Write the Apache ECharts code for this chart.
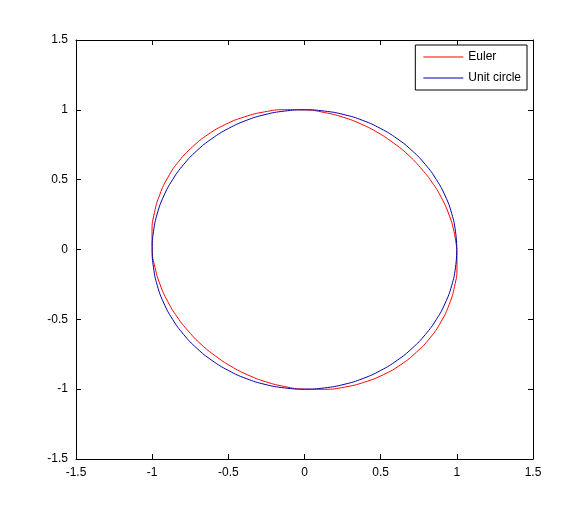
<!DOCTYPE html>
<html>
<head>
<meta charset="utf-8">
<script src="https://cdn.jsdelivr.net/npm/echarts@6/dist/echarts.min.js"></script>
<style>html,body{margin:0;padding:0;background:#fff}#chart{width:588px;height:516px}</style>
</head>
<body>
<div id="chart"></div>
<script>
// points
var eulerX = [1.0, 0.981, 0.947, 0.898, 0.836, 0.762, 0.679, 0.585, 0.483, 0.372, 0.254, 0.130, 0.0,
              -0.132, -0.264, -0.393, -0.518, -0.633, -0.735, -0.824, -0.896, -0.950, -0.985, -1.001, -1.0,
              -0.981, -0.947, -0.898, -0.836, -0.762, -0.679, -0.585, -0.483, -0.372, -0.254, -0.130, 0.0,
              0.132, 0.264, 0.393, 0.518, 0.633, 0.735, 0.824, 0.896, 0.950, 0.985, 1.001, 1.0];
var eulerY = [0.0, 0.130, 0.254, 0.372, 0.483, 0.585, 0.679, 0.762, 0.836, 0.898, 0.947, 0.981, 1.0,
              1.001, 0.985, 0.950, 0.896, 0.824, 0.735, 0.633, 0.518, 0.393, 0.264, 0.132, 0.0,
              -0.130, -0.254, -0.372, -0.483, -0.585, -0.679, -0.762, -0.836, -0.898, -0.947, -0.981, -1.0,
              -1.001, -0.985, -0.950, -0.896, -0.824, -0.735, -0.633, -0.518, -0.393, -0.264, -0.132, 0.0];
var circleX = [1.0, 0.991, 0.966, 0.924, 0.866, 0.793, 0.707, 0.609, 0.5, 0.383, 0.259, 0.131, 0.0,
               -0.131, -0.259, -0.383, -0.5, -0.609, -0.707, -0.793, -0.866, -0.924, -0.966, -0.991, -1.0,
               -0.991, -0.966, -0.924, -0.866, -0.793, -0.707, -0.609, -0.5, -0.383, -0.259, -0.131, 0.0,
               0.131, 0.259, 0.383, 0.5, 0.609, 0.707, 0.793, 0.866, 0.924, 0.966, 0.991, 1.0];
var circleY = [0.0, 0.131, 0.259, 0.383, 0.5, 0.609, 0.707, 0.793, 0.866, 0.924, 0.966, 0.991, 1.0,
               0.991, 0.966, 0.924, 0.866, 0.793, 0.707, 0.609, 0.5, 0.383, 0.259, 0.131, 0.0,
               -0.131, -0.259, -0.383, -0.5, -0.609, -0.707, -0.793, -0.866, -0.924, -0.966, -0.991, -1.0,
               -0.991, -0.966, -0.924, -0.866, -0.793, -0.707, -0.609, -0.5, -0.383, -0.259, -0.131, 0.0];
var seriesNames = ['Euler', 'Unit circle'];

function pairs(xs, ys) {
    var out = [];
    for (var i = 0; i < xs.length; i++) out.push([xs[i], ys[i]]);
    return out;
}

var font = {color: '#000', fontFamily: 'Liberation Sans', fontSize: 12};
var blackLine = {color: '#000', width: 1};
function axis(pos, show) {
    return {
        type: 'value', position: pos, min: -1.5, max: 1.5, interval: 0.5,
        axisLine: {show: true, onZero: false, lineStyle: blackLine},
        axisTick: {show: true, inside: true, length: 5, lineStyle: blackLine},
        axisLabel: Object.assign({show: show, margin: 8}, font),
        splitLine: {show: false}
    };
}

var myChart = echarts.init(document.getElementById('chart'));
myChart.setOption({
    animation: false,
    grid: {left: 76, right: 55, top: 40, bottom: 57},
    xAxis: [axis('bottom', true), axis('top', false)],
    yAxis: [axis('left', true), axis('right', false)],
    legend: {
        orient: 'vertical', right: 61, top: 45, padding: [6, 6, 6, 8],
        backgroundColor: '#fff', borderColor: '#000', borderWidth: 1, borderRadius: 0,
        itemWidth: 40, itemHeight: 1, itemGap: 9, icon: 'rect',
        textStyle: font, data: seriesNames
    },
    series: [
        {name: seriesNames[0], type: 'line', smooth: true, showSymbol: false,
         lineStyle: {color: '#ff0000', width: 1}, itemStyle: {color: '#ff0000'},
         data: pairs(eulerX, eulerY)},
        {name: seriesNames[1], type: 'line', smooth: true, showSymbol: false,
         lineStyle: {color: '#0000aa', width: 1}, itemStyle: {color: '#0000aa'},
         data: pairs(circleX, circleY)}
    ]
});
</script>
</body>
</html>
